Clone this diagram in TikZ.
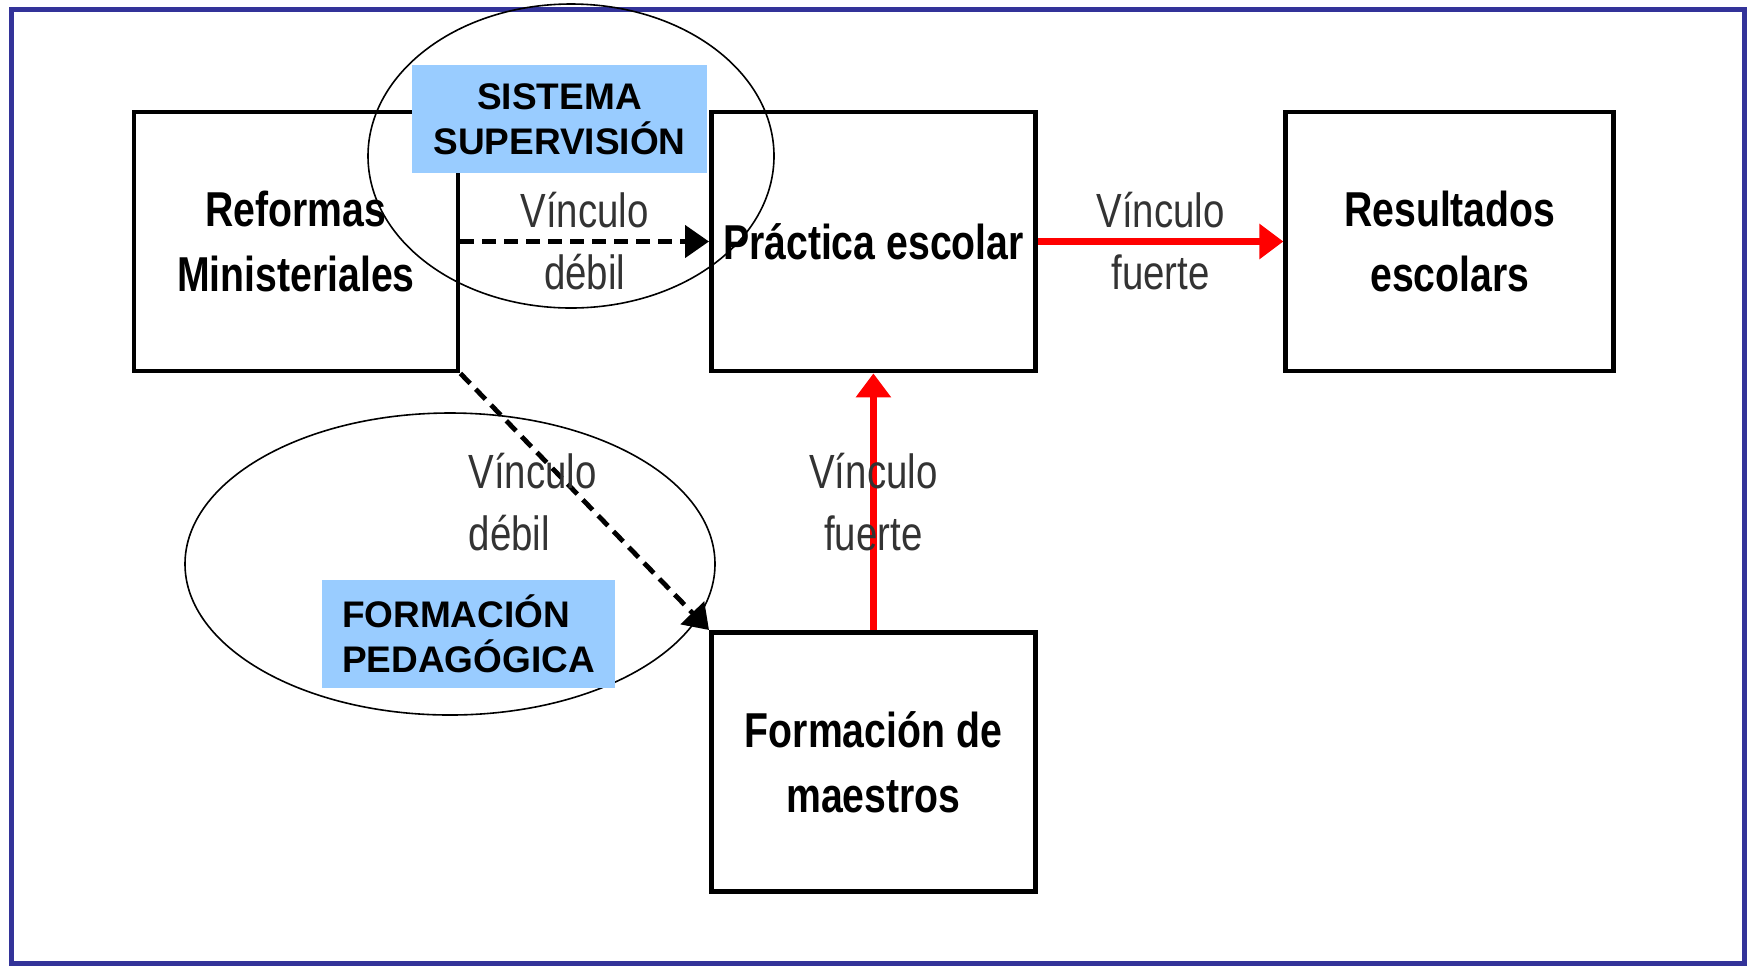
\documentclass[tikz,border=0pt]{standalone}
\usepackage{fontspec}
\setmainfont{Liberation Sans}
\newfontfamily\narrowfont[FakeStretch=0.8]{Liberation Sans}
\usetikzlibrary{positioning,shapes.geometric,arrows.meta}
\definecolor{marco}{RGB}{51,51,153}
\definecolor{celeste}{RGB}{153,204,255}
\tikzset{
  caja/.style={draw,line width=2.4pt,minimum width=162pt,minimum height=129.5pt,inner sep=0pt,align=center,
    font=\narrowfont\bfseries\fontsize{24.5}{32.5}\selectfont},
  etiq/.style={text=black!80,align=center,font=\narrowfont\fontsize{24}{31}\selectfont},
  debil/.style={->,black,line width=2.4pt,dash pattern=on 7pt off 4pt},
  fuerte/.style={->,red,line width=3.5pt,>={Triangle[length=12pt,width=17pt]}},
  oval/.style={draw,ellipse,line width=0.8pt,inner sep=0pt},
  nota/.style={fill=celeste,inner sep=0pt,minimum height=54pt,font=\bfseries\fontsize{18.5}{22.5}\selectfont}
}
\begin{document}
\begin{tikzpicture}[x=0.5pt,y=0.5pt,>={Triangle[length=12pt,width=16pt]}]
\useasboundingbox (0,0) rectangle (1751,-966);
\draw[marco,line width=2.5pt] (11,-9) rectangle (1744,-963);

\node[caja] (refo) at (296,-241.5) {Reformas\\Ministeriales};
\node[caja,right=124.3pt of refo] (prac) {Práctica escolar};
\node[caja,minimum width=164pt,right=122.8pt of prac] (resu) {Resultados\\escolars};
\node[caja,below=128.3pt of prac] (form) {Formación de\\maestros};

\path (refo) edge[debil] node[etiq]{Vínculo\\débil} (prac);
\path (prac) edge[fuerte] node[etiq]{Vínculo\\fuerte} (resu);
\path (form) edge[fuerte] node[etiq]{Vínculo\\fuerte} (prac);
\path (refo.south east) edge[debil] node[etiq,align=left,xshift=-26pt]{Vínculo\\débil} (form.north west);

%circulos
\node[oval,minimum width=203pt,minimum height=152pt] (circsup) at (571,-156) {};
\node[oval,minimum width=265pt,minimum height=151pt] (circped) at (450,-564) {};

\node[nota,minimum width=147.5pt,align=center] (superv) at (559.5,-119) {SISTEMA\\SUPERVISIÓN};
\node[nota,text width=126.5pt,inner xsep=10pt,align=left] (pedag) at (468.5,-633.5) {FORMACIÓN\\PEDAGÓGICA};
\end{tikzpicture}
\end{document}
